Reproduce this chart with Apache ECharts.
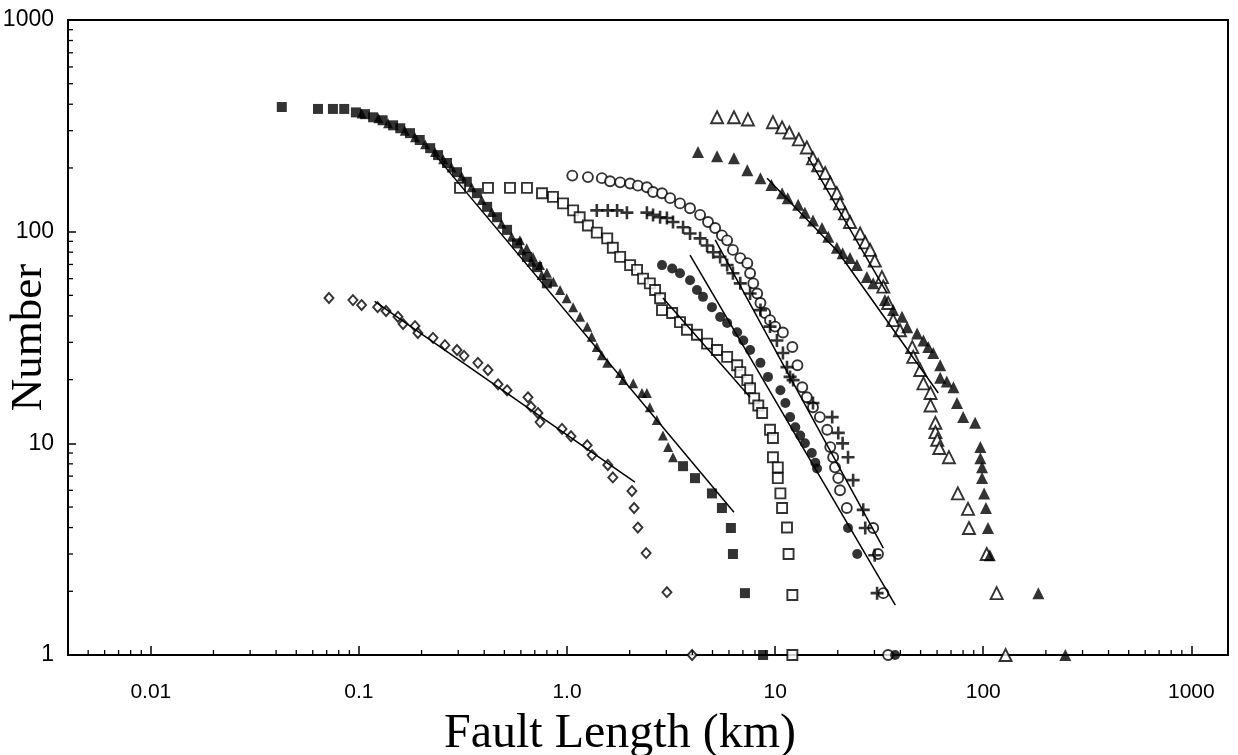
<!DOCTYPE html>
<html><head><meta charset="utf-8">
<script src="https://cdn.jsdelivr.net/npm/echarts@6/dist/echarts.min.js"></script>
<style>html,body{margin:0;padding:0;background:#fff}#c{width:1238px;height:755px}</style>
</head><body><div id="c"></div>
<script>
// ---- axes ----
const X_MIN = 0.004, X_MAX = 1500, Y_MIN = 1, Y_MAX = 1000;
const xMajorTicks = [0.01, 0.1, 1, 10, 100, 1000];
const xTickLabels = ['0.01', '0.1', '1.0', '10', '100', '1000'];
const yMajorTicks = [1, 10, 100, 1000];
const yTickLabels = ['1', '10', '100', '1000'];
const xMinorTicks = [0.004,0.005,0.006,0.007,0.008,0.009,
  0.02,0.03,0.04,0.05,0.06,0.07,0.08,0.09,
  0.2,0.3,0.4,0.5,0.6,0.7,0.8,0.9,
  2,3,4,5,6,7,8,9, 20,30,40,50,60,70,80,90,
  200,300,400,500,600,700,800,900];
const yMinorTicks = [2,3,4,5,6,7,8,9,20,30,40,50,60,70,80,90,200,300,400,500,600,700,800,900];

// ---- data series [length km, number] ----
const openDiamonds = [[0.0718,48.6],[0.0936,47.5],[0.103,45],[0.123,44],[0.135,42.2],[0.154,39.6],
  [0.163,36.6],[0.186,35.8],[0.192,33.2],[0.227,31.5],[0.259,29.1],[0.296,27.6],[0.32,25.9],
  [0.373,24.0],[0.417,22.2],[0.466,19.0],[0.515,17.8],[0.649,16.5],[0.671,14.9],[0.725,13.9],
  [0.742,12.6],[0.946,11.7],[1.045,10.8],[1.25,9.8],[1.32,8.8],[1.57,7.9],[1.66,6.9],
  [2.05,5.95],[2.1,4.95],[2.19,4.0],[2.4,3.03],[3.02,1.98],[3.99,1.0]];
const filledSquares = [[0.0426,388],[0.0636,380],[0.075,380],[0.085,380],[0.0967,366],[0.107,359],
  [0.117,347],[0.13,336],[0.146,318],[0.158,308],[0.176,292],[0.196,271],[0.22,248],[0.24,230],
  [0.265,211],[0.296,191],[0.33,172],[0.369,152],[0.413,131],[0.461,117],[0.515,102],[0.575,88],
  [0.642,76],[0.718,68],[0.8,57],[3.61,7.8],[4.12,6.85],[4.97,5.8],[5.55,4.95],[6.13,3.98],
  [6.27,3.0],[7.16,1.96],[8.75,1.0]];
const filledTrianglesSmall = [[0.103,362],[0.124,343],[0.138,325],[0.166,300],[0.186,279],
  [0.208,259],[0.232,238],[0.254,220],[0.279,201],[0.312,182],[0.348,162],[0.389,141],[0.435,124],
  [0.485,109],[0.542,94.6],[0.605,81.8],[0.676,72.1],[0.756,62.4],
  [0.594,91],[0.64,83.4],[0.686,76],[0.741,69.5],[0.8,64],[0.859,58],[0.926,53],[0.996,48.4],
  [1.07,44],[1.155,39.6],[1.25,35.5],[1.314,31.9],[1.39,28.5],[1.469,26.1],[1.56,24],[1.8,21.5],
  [2.08,19.2],[2.42,17.3],[1.86,19.9],[2.29,17.3],[2.5,14.8],[2.7,12.9],[2.89,10.9],[3.06,9.6],
  [3.23,8.6]];
const openSquares = [[0.306,161],[0.417,161],[0.532,161],[0.642,161],[0.758,152],[0.856,146],
  [0.957,136],[1.07,126],[1.15,117],[1.26,107],[1.39,99],[1.56,93],[1.66,84],[1.8,76],[2.01,69.5],
  [2.17,66],[2.32,60],[2.5,57],[2.65,53],[2.8,48.5],[2.86,42.6],[3.2,41.3],[3.49,37.4],[3.77,34.4],
  [4.21,32.6],[4.71,29.6],[5.26,27.6],[5.88,25.6],[6.57,23.4],[6.8,21.7],[7.35,19.9],[7.58,18.2],
  [7.93,16.3],[8.3,15.1],[8.66,13.9],[9.45,11.6],[9.76,10.6],[9.76,8.6],[10.3,7.7],[10.3,6.85],
  [10.6,5.8],[10.8,4.95],[11.4,4.0],[11.6,3.0],[12.1,1.92],[12.1,1.0]];
const filledCircles = [[2.86,69.5],[3.2,67],[3.49,63.6],[3.9,59],[4.21,53],[4.5,49.2],[4.97,44],
  [5.44,39.5],[5.88,37],[6.57,33.5],[7.03,30.6],[7.58,27.6],[8.5,24],[9.24,20.6],[10.6,17.8],
  [11.2,15.5],[11.8,13.3],[12.5,11.9],[13.2,10.9],[13.9,10.0],[15.0,9.0],[15.6,8.1],[15.9,7.6],
  [22.4,3.98],[24.8,3.0],[37.7,1.0]];
const openCircles = [[1.06,184],[1.26,181],[1.47,179],[1.61,173],[1.8,171],[2.01,169],[2.19,165],
  [2.42,162],[2.59,154],[2.86,152],[3.13,144],[3.49,136],[3.9,129],[4.36,120],[4.76,111],
  [5.15,104],[5.55,96],[5.88,91],[6.27,82],[6.8,75],[7.35,71],[7.58,63.6],[7.85,57],[8.2,51],
  [8.5,46],[8.95,41.3],[9.45,38.2],[10.0,35.6],[10.9,33.4],[12.1,28.5],[12.8,23.4],[13.5,18.4],
  [14.2,16.5],[15.2,14.8],[16.4,13.3],[17.8,11.6],[18.4,9.6],[19.0,8.6],[19.4,7.7],[20.1,6.85],
  [20.5,6.0],[22.1,4.95],[29.6,3.98],[31.2,3.0],[33.1,1.96],[34.9,1.0]];
const plusSigns = [[1.39,126],[1.57,126],[1.74,126],[1.94,123],[2.42,123],[2.59,120],[2.8,117],
  [3.02,116],[3.23,111],[3.61,105],[3.9,98],[4.36,93],[4.71,86],[5.04,80],[5.44,76],[5.88,69.5],
  [6.27,63.6],[6.8,57],[7.58,51],[8.5,42.6],[9.45,35.6],[10.2,30.6],[10.9,26.7],[11.4,22.9],
  [12.2,19.9],[11.8,20.6],[15.2,15.5],[18.8,13.3],[20.1,11.2],[21.1,10.0],[22.4,8.6],[23.7,6.7],
  [26.5,4.85],[27.1,3.98],[30.1,2.96],[30.9,1.96]];
const openTriangles = [[5.26,347],[6.34,347],[7.4,339],[9.76,329],[10.8,311],[11.7,294],[13.0,273],
  [14.2,250],[15.2,222],[16.1,206],[17.4,189],[18.4,170],[19.8,152],[20.5,136],[21.7,122],
  [22.9,111],[25.6,98],[27.1,89],[28.6,82],[30.1,73],[32.6,61],[33.1,55],[34.9,46],[36.9,38.2],
  [39.8,34.2],[45.6,28.5],[46.1,25.6],[49.8,22.2],[51.6,19.2],[55.8,17.3],[55.8,15.1],[58.9,12.5],
  [58.9,11.3],[60.1,10.4],[61.5,9.5],[68.4,8.6],[75.5,5.8],[84.5,4.9],[85.4,3.98],[103.9,3.0],
  [116,1.96],[128,1.0]];
const filledTriangles = [[4.26,238],[5.26,227],[6.34,222],[7.35,195],[8.5,179],[9.6,166],[10.8,152],
  [11.5,144],[12.9,134],[13.9,123],[15.2,113],[16.8,104],[18.0,94.5],[19.8,84],[21.1,79],[22.9,75],
  [24.7,69.5],[27.6,61],[29.6,57],[33.7,47.6],[36.9,42.6],[40.7,39.6],[43.1,35.4],[48.1,33],
  [51.6,30.6],[54.4,28.5],[57.5,26.7],[62.1,23.4],[62.1,20.4],[66.8,19.6],[71.9,18.4],[74.8,15.5],
  [80.1,13.3],[91.4,12.5],[96.9,9.6],[96.9,8.5],[98.7,7.7],[98.7,6.85],[101,5.8],[103,4.95],
  [105.4,3.98],[107.6,2.96],[184,1.96],[248,1.0]];

// ---- fitted lines ----
const fitDiamonds = [[0.119,46.9],[2.12,6.56]];
const fitFilledSquares = [[0.237,225],[6.34,4.73]];
const fitOpenSquares = [[2.89,48.6],[7.58,16.5]];
const fitFilledCircles = [[3.9,77.5],[37.8,1.72]];
const fitOpenCircles = [[5.15,91.4],[33.1,3.2]];
const fitOpenTriangles = [[14.4,225],[34.5,51.3]];
const fitFilledTriangles = [[9.15,179],[19.9,81],[60.8,17.3]];

function labelFor(v, ticks, labels) {
  for (let i = 0; i < ticks.length; i++) {
    if (Math.abs(Math.log10(v) - Math.log10(ticks[i])) < 1e-6) return labels[i];
  }
  return '';
}
const hollow = {color: '#fff', borderColor: '#000', borderWidth: 1.9};
const solid = {color: '#000'};
const plusPath = 'path://M4,0h2v4h4v2h-4v4h-2v-4h-4v-2h4z';

function scatter(name, data, symbol, size, style) {
  return {name, type: 'scatter', data, symbol, symbolSize: size, itemStyle: style, clip: false, z: 3};
}
function fit(name, data) {
  return {name, type: 'line', data, showSymbol: false, symbol: 'none', clip: false, z: 4,
    lineStyle: {color: '#000', width: 1.5}};
}
function tickSeries(values, axis, len) {
  return {
    type: 'custom', coordinateSystem: 'cartesian2d', silent: true, clip: false, z: 10,
    data: values.map(v => axis === 'x' ? [v, Y_MIN] : [X_MIN, v]),
    renderItem: (params, api) => {
      const p = api.coord([api.value(0), api.value(1)]);
      const shape = axis === 'x'
        ? {x1: p[0], y1: p[1], x2: p[0], y2: p[1] - len}
        : {x1: p[0], y1: p[1], x2: p[0] + len, y2: p[1]};
      return {type: 'line', shape, style: {stroke: '#000', lineWidth: 1.3}};
    }
  };
}

const chart = echarts.init(document.getElementById('c'), null, {renderer: 'canvas'});
chart.setOption({
  animation: false,
  backgroundColor: '#fff',
  grid: {left: 68, right: 10, top: 20, bottom: 100, containLabel: false, outerBoundsMode: 'none',
    show: true, borderColor: '#000', borderWidth: 2},
  xAxis: {
    type: 'log', logBase: 10, min: X_MIN, max: X_MAX,
    name: 'Fault Length (km)', nameLocation: 'middle', nameGap: 55, nameMoveOverlap: false,
    nameTextStyle: {fontFamily: 'Liberation Serif', fontSize: 48, color: '#000', padding: [0, 56, 0, 0]},
    axisLine: {lineStyle: {color: '#000', width: 2}},
    axisTick: {inside: true, length: 9, lineStyle: {color: '#000', width: 1.5}},
    axisLabel: {showMinLabel: false, showMaxLabel: false, margin: 27, color: '#000',
      fontFamily: 'Liberation Sans', fontSize: 21,
      formatter: v => labelFor(v, xMajorTicks, xTickLabels)},
    splitLine: {show: false}
  },
  yAxis: {
    type: 'log', logBase: 10, min: Y_MIN, max: Y_MAX,
    name: 'Number', nameLocation: 'middle', nameGap: 16, nameMoveOverlap: false,
    nameTextStyle: {fontFamily: 'Liberation Serif', fontSize: 45, color: '#000'},
    axisLine: {lineStyle: {color: '#000', width: 2}},
    axisTick: {inside: true, length: 8, lineStyle: {color: '#000', width: 1.5}},
    axisLabel: {margin: 14, color: '#000', fontFamily: 'Liberation Sans', fontSize: 23,
      formatter: v => labelFor(v, yMajorTicks, yTickLabels)},
    splitLine: {show: false}
  },
  series: [
    tickSeries(xMinorTicks, 'x', 5),
    tickSeries(yMinorTicks, 'y', 5),
    fit('fitDiamonds', fitDiamonds),
    fit('fitFilledSquares', fitFilledSquares),
    fit('fitOpenSquares', fitOpenSquares),
    fit('fitFilledCircles', fitFilledCircles),
    fit('fitOpenCircles', fitOpenCircles),
    fit('fitOpenTriangles', fitOpenTriangles),
    fit('fitFilledTriangles', fitFilledTriangles),
    scatter('openDiamonds', openDiamonds, 'diamond', [9, 10], hollow),
    scatter('filledSquares', filledSquares, 'rect', 10, solid),
    scatter('filledTrianglesSmall', filledTrianglesSmall, 'triangle', 10, solid),
    scatter('openSquares', openSquares, 'rect', 10, hollow),
    scatter('openCircles', openCircles, 'circle', 10, hollow),
    scatter('filledCircles', filledCircles, 'circle', 10, solid),
    scatter('plusSigns', plusSigns, plusPath, 13, solid),
    scatter('openTriangles', openTriangles, 'triangle', 12, hollow),
    scatter('filledTriangles', filledTriangles, 'triangle', 12, solid)
  ]
});
</script></body></html>
